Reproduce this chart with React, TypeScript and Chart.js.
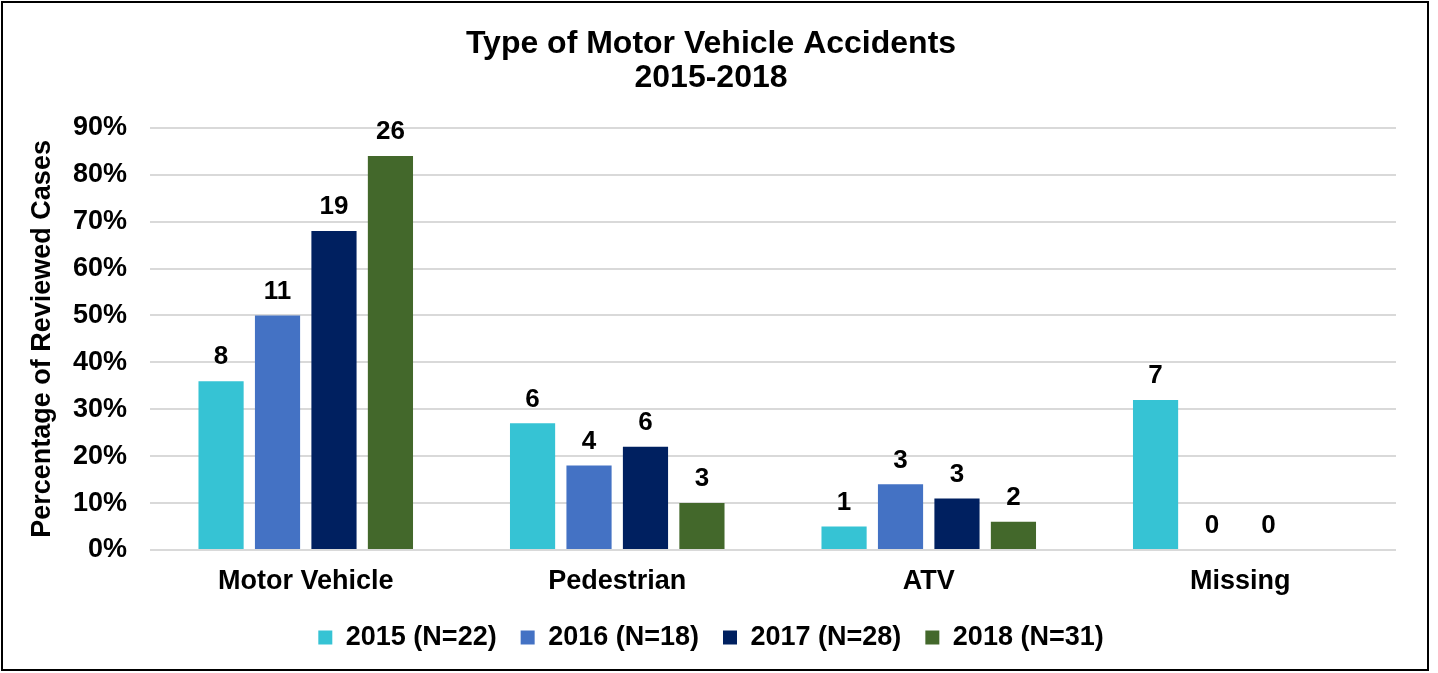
import React, { useEffect, useRef } from "react";
import { Chart, registerables } from "chart.js";

Chart.register(...registerables);

const categories = ["Motor Vehicle", "Pedestrian", "ATV", "Missing"];
const seriesNames = ["2015 (N=22)", "2016 (N=18)", "2017 (N=28)", "2018 (N=31)"];
const pct2015 = [36, 27, 5, 32];
const pct2016 = [50, 18, 14, 0];
const pct2017 = [68, 22, 11, 0];
const pct2018 = [84, 10, 6, null];
const count2015 = ["8", "6", "1", "7"];
const count2016 = ["11", "4", "3", "0"];
const count2017 = ["19", "6", "3", "0"];
const count2018 = ["26", "3", "2", ""];
const colors = ["#36C3D4", "#4472C4", "#002060", "#43682B"];
const yTicks = [0, 10, 20, 30, 40, 50, 60, 70, 80, 90];

const FONT = "'Liberation Sans', Arial, Helvetica, sans-serif";

const labelPlugin = {
  id: "countLabels",
  afterDatasetsDraw(chart: any) {
    const ctx = chart.ctx;
    const counts = [count2015, count2016, count2017, count2018];
    ctx.save();
    ctx.font = `bold 26px ${FONT}`;
    ctx.fillStyle = "#000";
    ctx.textAlign = "center";
    ctx.textBaseline = "middle";
    chart.data.datasets.forEach((ds: any, di: number) => {
      const meta = chart.getDatasetMeta(di);
      meta.data.forEach((el: any, i: number) => {
        const v = ds.data[i];
        const txt = counts[di][i];
        if (v === null || v === undefined || !txt) return;
        ctx.fillText(txt, el.x, el.y - 24);
      });
    });
    ctx.restore();
  },
};

export default function App() {
  const ref = useRef<HTMLCanvasElement | null>(null);
  useEffect(() => {
    if (!ref.current) return;
    Chart.defaults.font.family = FONT;
    Chart.defaults.color = "#000";
    const data = [pct2015, pct2016, pct2017, pct2018];
    const chart = new Chart(ref.current, {
      type: "bar",
      data: {
        labels: categories,
        datasets: seriesNames.map((name, i) => ({
          label: name,
          data: data[i] as any,
          backgroundColor: colors[i],
          borderWidth: 0,
          categoryPercentage: 0.725,
          barPercentage: 0.8,
        })),
      },
      options: {
        animation: false,
        responsive: true,
        maintainAspectRatio: false,
        layout: { padding: { top: 24, left: 23, right: 31, bottom: 8 } },
        plugins: {
          title: {
            display: true,
            text: ["Type of Motor Vehicle Accidents", "2015-2018"],
            font: { size: 32, weight: "bold", lineHeight: 1.06 },
            color: "#000",
            padding: { top: 0, bottom: 33 },
          },
          legend: {
            position: "bottom",
            labels: {
              boxWidth: 14,
              boxHeight: 14,
              padding: 24,
              color: "#000",
              font: { size: 27, weight: "bold" },
            },
          },
          tooltip: { enabled: false },
        },
        scales: {
          x: {
            grid: { display: false },
            border: { display: false },
            afterFit: (s: any) => {
              s.height = 50;
            },
            ticks: { font: { size: 27, weight: "bold" }, color: "#000", padding: 7 },
          },
          y: {
            min: 0,
            max: 90,
            afterBuildTicks: (s: any) => {
              s.ticks = yTicks.map((v) => ({ value: v }));
            },
            afterFit: (s: any) => {
              s.width = 124;
            },
            grid: { color: "#d9d9d9", lineWidth: 2, drawTicks: false },
            border: { display: false },
            ticks: {
              font: { size: 27, weight: "bold" },
              color: "#000",
              padding: 23,
              callback: (v: any) => `${v}%`,
            },
            title: {
              display: true,
              text: "Percentage of Reviewed Cases",
              font: { size: 27, weight: "bold" },
              color: "#000",
              padding: 0,
            },
          },
        },
      },
      plugins: [labelPlugin],
    });
    return () => chart.destroy();
  }, []);

  return (
    <div
      style={{
        position: "fixed",
        left: 1,
        top: 1,
        width: 1428,
        height: 670,
        border: "2px solid #000",
        boxSizing: "border-box",
        background: "#fff",
      }}
    >
      <div style={{ position: "relative", width: "100%", height: "100%" }}>
        <canvas ref={ref} />
      </div>
    </div>
  );
}
